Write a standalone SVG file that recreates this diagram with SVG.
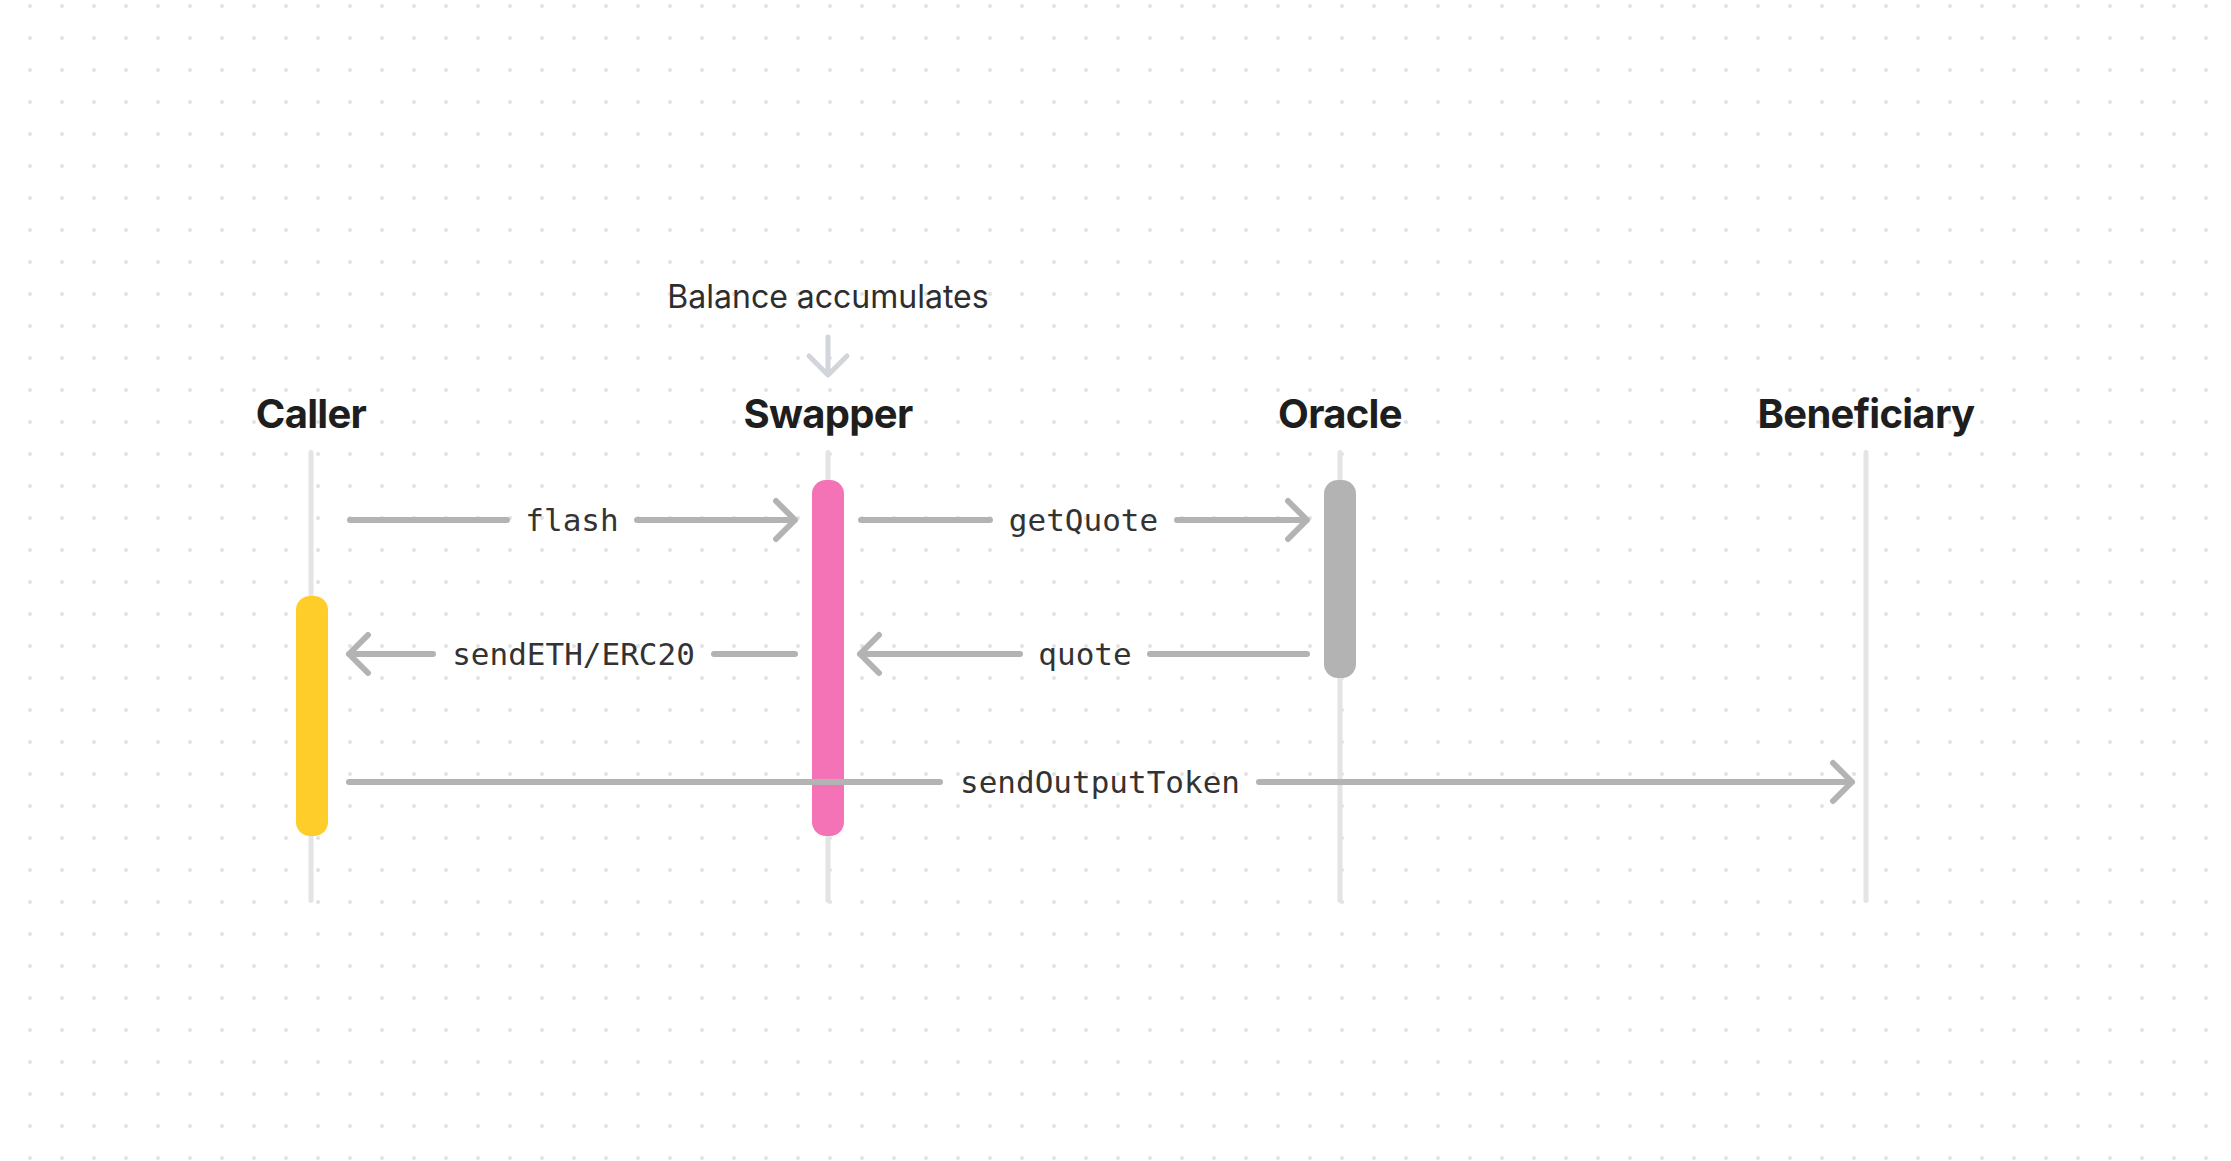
<svg xmlns="http://www.w3.org/2000/svg" width="2231" height="1161" viewBox="0 0 2231 1161">
  <defs>
    <pattern id="dots" x="14" y="-10" width="32" height="32" patternUnits="userSpaceOnUse">
      <circle cx="16" cy="16" r="2.1" fill="#e2e2e2"/>
    </pattern>
    <style>
      .title { font-family: Inter, "Noto Sans", "Liberation Sans", sans-serif; font-weight: 700; font-size: 40px; letter-spacing: -0.7px; fill: #1e1e1e; text-anchor: middle; }
      .note { font-family: Inter, "Noto Sans", "Liberation Sans", sans-serif; font-weight: 400; font-size: 32px; fill: #2e2e2e; text-anchor: middle; }
      .lbl { font-family: "DejaVu Sans Mono", "Liberation Mono", monospace; font-size: 31px; fill: #333333; text-anchor: middle; }
      .life { stroke: #e4e4e4; stroke-width: 5; stroke-linecap: round; fill: none; }
      .conn { stroke: #b3b3b3; stroke-width: 6; stroke-linecap: round; stroke-linejoin: round; fill: none; }
      .hint { stroke: #d2d5dc; stroke-width: 5; stroke-linecap: round; stroke-linejoin: round; fill: none; }
    </style>
  </defs>
  <rect width="2231" height="1161" fill="#ffffff"/>
  <rect width="2231" height="1161" fill="url(#dots)"/>

  <g id="note-balance">
    <text class="note" x="828" y="308">Balance accumulates</text>
    <path class="hint" d="M828 337 V374 M809 356 L828 375 L847 356"/>
  </g>

  <g id="caller">
    <text class="title" x="311" y="428">Caller</text>
    <line class="life" x1="311" y1="452.5" x2="311" y2="900.5"/>
    <rect x="296" y="596" width="32" height="240" rx="14" fill="#ffcd29"/>
  </g>

  <g id="swapper">
    <text class="title" x="828" y="428">Swapper</text>
    <line class="life" x1="828" y1="452.5" x2="828" y2="900.5"/>
    <rect x="812" y="480" width="32" height="356" rx="14" fill="#f472b6"/>
  </g>

  <g id="oracle">
    <text class="title" x="1340" y="428">Oracle</text>
    <line class="life" x1="1340" y1="452.5" x2="1340" y2="900.5"/>
    <rect x="1324" y="480" width="32" height="198" rx="14" fill="#b3b3b3"/>
  </g>

  <g id="beneficiary">
    <text class="title" x="1866" y="428">Beneficiary</text>
    <line class="life" x1="1866" y1="452.5" x2="1866" y2="900.5"/>
  </g>

  <g id="connectors">
    <g id="msg-flash">
      <path class="conn" d="M350 520 H507 M637 520 H795 M776 501 L795 520 L776 539"/>
      <text class="lbl" x="572" y="531">flash</text>
    </g>
    <g id="msg-getQuote">
      <path class="conn" d="M861 520 H990 M1177 520 H1307 M1288 501 L1307 520 L1288 539"/>
      <text class="lbl" x="1083.5" y="531">getQuote</text>
    </g>
    <g id="msg-sendETH">
      <path class="conn" d="M795 654 H714 M433 654 H349 M368 635 L349 654 L368 673"/>
      <text class="lbl" x="573.5" y="665">sendETH/ERC20</text>
    </g>
    <g id="msg-quote">
      <path class="conn" d="M1307 654 H1150 M1020 654 H860 M879 635 L860 654 L879 673"/>
      <text class="lbl" x="1085" y="665">quote</text>
    </g>
    <g id="msg-sendOutputToken">
      <path class="conn" d="M349 782 H940 M1259 782 H1852 M1833 763 L1852 782 L1833 801"/>
      <text class="lbl" x="1100" y="793">sendOutputToken</text>
    </g>
  </g>
</svg>
